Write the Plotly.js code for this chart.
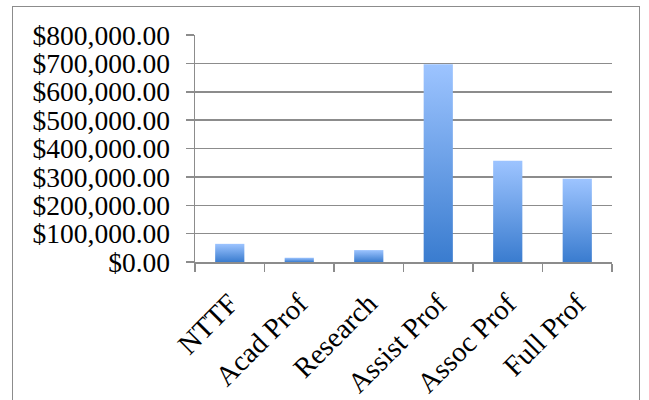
<!DOCTYPE html>
<html>
<head>
<meta charset="utf-8">
<script src="https://cdn.plot.ly/plotly-3.0.1.min.js"></script>
<style>
  html, body { margin: 0; padding: 0; background: #fff; }
  #wrap { position: relative; width: 649px; height: 400px; overflow: hidden; }
  #frame { position: absolute; left: 12px; top: 6px; width: 628px; height: 420px; border: 1.5px solid #8c8c8c; box-sizing: border-box; pointer-events: none; }
  #chart { position: absolute; left: 0; top: 0; width: 649px; height: 400px; }
</style>
</head>
<body>
<div id="wrap">
  <div id="chart"></div>
  <div id="frame"></div>
</div>
<script>
const categories = ["NTTF", "Acad Prof", "Research", "Assist Prof", "Assoc Prof", "Full Prof"];
const amounts = [64000, 15000, 42000, 697000, 357000, 293000];
const yTickValues = [0, 100000, 200000, 300000, 400000, 500000, 600000, 700000, 800000];
const yTickLabels = ["$0.00", "$100,000.00", "$200,000.00", "$300,000.00", "$400,000.00", "$500,000.00", "$600,000.00", "$700,000.00", "$800,000.00"];

const fontFamily = "'Liberation Serif', 'Times New Roman', serif";

const trace = {
  type: "bar",
  x: categories,
  y: amounts,
  marker: { color: "#6a9fe8", line: { width: 0 } },
  hoverinfo: "x+y"
};

const layout = {
  width: 649,
  height: 400,
  margin: { l: 195, r: 37, t: 35, b: 138 },
  paper_bgcolor: "rgba(0,0,0,0)",
  plot_bgcolor: "rgba(0,0,0,0)",
  showlegend: false,
  bargap: 0.58,
  font: { family: fontFamily, size: 27, color: "#000" },
  xaxis: {
    type: "category",
    tickangle: -45,
    showline: true,
    linecolor: "#8c8c8c",
    linewidth: 1.5,
    ticks: "outside",
    tickson: "boundaries",
    ticklen: 8,
    tickwidth: 1.5,
    tickcolor: "#8c8c8c",
    showgrid: false,
    ticklabelstandoff: 12,
    tickfont: { family: fontFamily, size: 28.5, color: "#000" },
    fixedrange: true
  },
  yaxis: {
    range: [0, 800000],
    tickvals: yTickValues,
    ticktext: yTickLabels,
    showline: true,
    linecolor: "#8c8c8c",
    linewidth: 1.5,
    ticks: "outside",
    ticklen: 8,
    tickwidth: 1.5,
    tickcolor: "#8c8c8c",
    showgrid: true,
    gridcolor: "#8c8c8c",
    gridwidth: 1.5,
    zeroline: false,
    ticklabelstandoff: 10,
    tickfont: { family: fontFamily, size: 27.5, color: "#000" },
    fixedrange: true
  }
};

Plotly.newPlot("chart", [trace], layout, { displayModeBar: false, staticPlot: true }).then(function (gd) {
  // vertical gradient on each bar (light top, darker bottom)
  const svg = gd.querySelector("svg.main-svg");
  const ns = "http://www.w3.org/2000/svg";
  let defs = svg.querySelector("defs");
  if (!defs) { defs = document.createElementNS(ns, "defs"); svg.insertBefore(defs, svg.firstChild); }
  const grad = document.createElementNS(ns, "linearGradient");
  grad.setAttribute("id", "barGrad");
  grad.setAttribute("x1", "0"); grad.setAttribute("y1", "0");
  grad.setAttribute("x2", "0"); grad.setAttribute("y2", "1");
  [["0%", "#9dc4ff"], ["100%", "#3a7ccf"]].forEach(function (s) {
    const st = document.createElementNS(ns, "stop");
    st.setAttribute("offset", s[0]);
    st.setAttribute("stop-color", s[1]);
    grad.appendChild(st);
  });
  defs.appendChild(grad);
  gd.querySelectorAll(".barlayer .point path").forEach(function (p) {
    p.style.fill = "url(#barGrad)";
  });
});
</script>
</body>
</html>
